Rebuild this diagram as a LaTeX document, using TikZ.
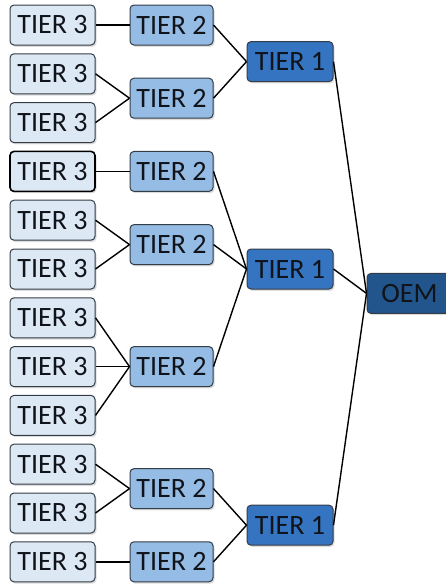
\documentclass[tikz,border=0pt]{standalone}
\usepackage{fontspec}
\setmainfont{Carlito}
\usetikzlibrary{shadows}
\definecolor{tthree}{HTML}{DDE8F5}
\definecolor{ttwo}{HTML}{95BCE4}
\definecolor{tone}{HTML}{3474C0}
\definecolor{toem}{HTML}{22558C}
\definecolor{edgegray}{HTML}{343C46}
\definecolor{ink}{HTML}{10141A}
\tikzset{
  box/.style={draw=edgegray, line width=1pt, rounded corners=4pt,
    minimum height=40pt, inner sep=0pt, text=ink,
    font=\fontsize{28}{30}\selectfont,
    drop shadow={shadow xshift=1.5pt, shadow yshift=-1.8pt, opacity=0.28}},
  tierthree/.style={box, fill=tthree, minimum width=85pt},
  tiertwo/.style={box, fill=ttwo, minimum width=83pt},
  tierone/.style={box, fill=tone, minimum width=86pt},
  oembox/.style={box, fill=toem, minimum width=85pt},
  link/.style={draw=black, line width=1.4pt}
}
\begin{document}
\begin{tikzpicture}[x=1pt, y=-1pt]
\useasboundingbox (0,0) rectangle (446,584);
\begin{scope}
\clip (0,0) rectangle (446,584);
% Tier 3 suppliers
\node[tierthree] (a0) at (52.5,25) {TIER 3};
\node[tierthree] (a1) at (52.5,73.8) {TIER 3};
\node[tierthree] (a2) at (52.5,122.6) {TIER 3};
\node[tierthree, draw=black, line width=1.6pt] (a3) at (52.5,171.4) {TIER 3};
\node[tierthree] (a4) at (52.5,220.2) {TIER 3};
\node[tierthree] (a5) at (52.5,269) {TIER 3};
\node[tierthree] (a6) at (52.5,317.8) {TIER 3};
\node[tierthree] (a7) at (52.5,366.6) {TIER 3};
\node[tierthree] (a8) at (52.5,415.4) {TIER 3};
\node[tierthree] (a9) at (52.5,464.2) {TIER 3};
\node[tierthree] (a10) at (52.5,513) {TIER 3};
\node[tierthree] (a11) at (52.5,561.8) {TIER 3};
% Tier 2 suppliers
\node[tiertwo] (b0) at (171.5,25) {TIER 2};
\node[tiertwo] (b1) at (171.5,98.2) {TIER 2};
\node[tiertwo] (b2) at (171.5,171.4) {TIER 2};
\node[tiertwo] (b3) at (171.5,244.6) {TIER 2};
\node[tiertwo] (b4) at (171.5,366.6) {TIER 2};
\node[tiertwo] (b5) at (171.5,488.6) {TIER 2};
\node[tiertwo] (b6) at (171.5,561.8) {TIER 2};
% Tier 1 suppliers
\node[tierone] (c0) at (290,61.6) {TIER 1};
\node[tierone] (c1) at (290,269) {TIER 1};
\node[tierone] (c2) at (290,525.2) {TIER 1};
% Manufacturer
\node[oembox] (oem) at (409.5,293.4) {OEM};
\end{scope}
% Supply links
\draw[link] (a0.east) -- (b0.west);
\draw[link] (a1.east) -- (b1.west);
\draw[link] (a2.east) -- (b1.west);
\draw[link] (a3.east) -- (b2.west);
\draw[link] (a4.east) -- (b3.west);
\draw[link] (a5.east) -- (b3.west);
\draw[link] (a6.east) -- (b4.west);
\draw[link] (a7.east) -- (b4.west);
\draw[link] (a8.east) -- (b4.west);
\draw[link] (a9.east) -- (b5.west);
\draw[link] (a10.east) -- (b5.west);
\draw[link] (a11.east) -- (b6.west);
\draw[link] (b0.east) -- (c0.west);
\draw[link] (b1.east) -- (c0.west);
\draw[link] (b2.east) -- (c1.west);
\draw[link] (b3.east) -- (c1.west);
\draw[link] (b4.east) -- (c1.west);
\draw[link] (b5.east) -- (c2.west);
\draw[link] (b6.east) -- (c2.west);
\draw[link] (c0.east) -- (oem.west);
\draw[link] (c1.east) -- (oem.west);
\draw[link] (c2.east) -- (oem.west);
\end{tikzpicture}
\end{document}
